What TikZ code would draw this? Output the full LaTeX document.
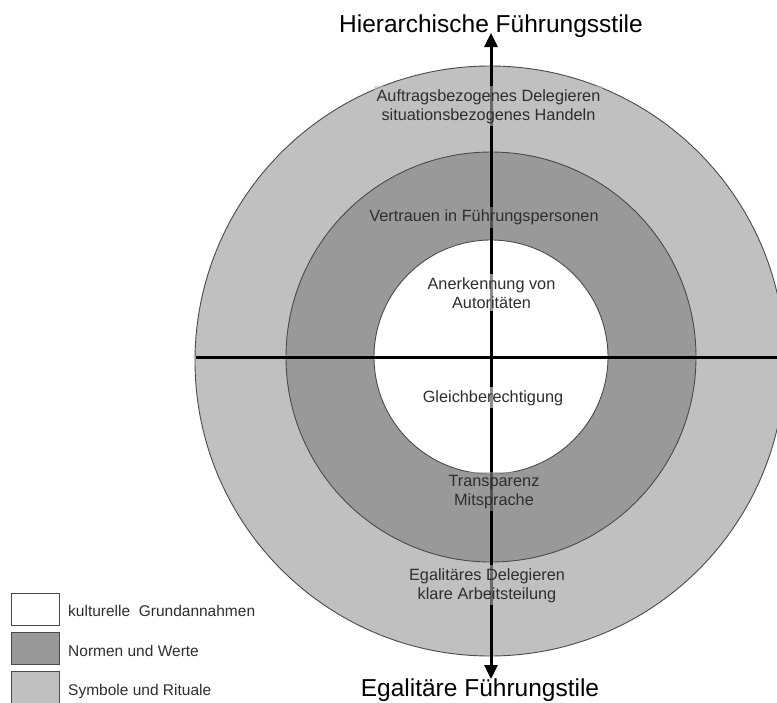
\documentclass[tikz,border=0pt]{standalone}
\usepackage{fontspec}
\setmainfont{Liberation Sans}
\usetikzlibrary{arrows.meta}
\definecolor{outerc}{HTML}{C0C0C0}
\definecolor{midc}{HTML}{999999}
\definecolor{edgec}{HTML}{4A4A4A}
\definecolor{txtc}{HTML}{2E2E2E}
\tikzset{
  ring/.style={circle, draw=edgec, line width=0.9pt, inner sep=0pt},
  axis/.style={line width=3pt, black},
  lbl/.style={font=\fontsize{16.3}{19}\selectfont, text=txtc, align=center, inner sep=3pt, fill opacity=0.55, text opacity=1},
  ttl/.style={font=\fontsize{24.5}{28}\selectfont, text=black, inner sep=0pt},
  legbox/.style={draw=edgec, line width=0.8pt, minimum width=48pt, minimum height=32pt, inner sep=0pt, anchor=north west},
  legtxt/.style={font=\fontsize{15.5}{18}\selectfont, text=txtc, anchor=base west, inner sep=0pt},
}
\begin{document}
\begin{tikzpicture}[x=1pt,y=-1pt]
\useasboundingbox (0,0) rectangle (777,702);
\clip (0,0) rectangle (777,702);
% rings
\node[ring, fill=outerc, minimum size=590pt] (outer) at (490,361) {};
\node[ring, fill=midc, minimum size=410pt] (middle) at (491,357) {};
\node[ring, fill=white, minimum size=234pt] (inner) at (491,357) {};
% axes
\coordinate (hl) at (196,357);
\coordinate (hr) at (780,357);
\coordinate (vt) at (491,33);
\coordinate (vb) at (491,679);
\draw[axis] (hl) -- (hr);
\draw[axis, {Triangle[length=14pt,width=13pt]}-{Triangle[length=14pt,width=13pt]}] (vt) -- (vb);
% titles
\node[ttl, anchor=base] (top) at (491,32) {Hierarchische Führungsstile};
\node[ttl, anchor=base] (bot) at (480,696.5) {Egalitäre Führungstile};
% labels
\node[lbl, fill=outerc, anchor=base] (a1) at (488.5,120) {Auftragsbezogenes Delegieren\\situationsbezogenes Handeln};
\node[lbl, fill=midc, anchor=base] (a2) at (484,221.5) {Vertrauen in Führungspersonen};
\node[lbl, fill=white, anchor=base] (a3) at (491.5,308) {Anerkennung von\\Autoritäten};
\node[lbl, fill=white, anchor=base] (a4) at (493,402) {Gleichberechtigung};
\node[lbl, fill=midc, anchor=base] (a5) at (494,505) {Transparenz\\Mitsprache};
\node[lbl, fill=outerc, anchor=base] (a6) at (487,599) {Egalitäres Delegieren\\klare Arbeitsteilung};
% legend
\node[legbox, fill=white] (k1) at (11,593) {};
\node[legbox, fill=midc] (k2) at (11,632) {};
\node[legbox, fill=outerc] (k3) at (11,671) {};
\node[legtxt] (t1) at (68,616) {kulturelle\ \ Grundannahmen};
\node[legtxt] (t2) at (68,656) {Normen und Werte};
\node[legtxt] (t3) at (68,695) {Symbole und Rituale};
\end{tikzpicture}
\end{document}
